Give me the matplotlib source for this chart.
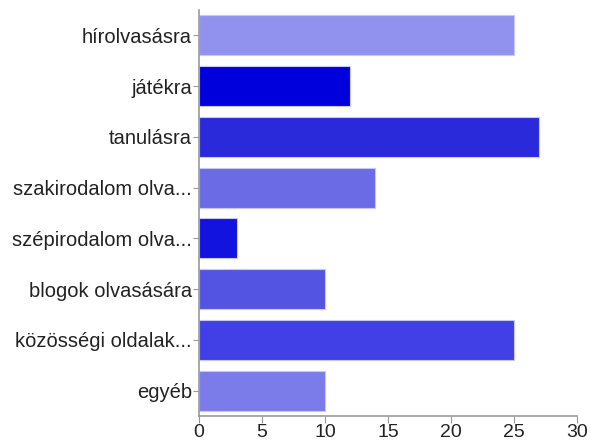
import matplotlib
matplotlib.use("Agg")
from matplotlib import pyplot as plt

categories = ["hírolvasásra", "játékra", "tanulásra", "szakirodalom olva...",
              "szépirodalom olva...", "blogok olvasására", "közösségi oldalak...", "egyéb"]
values = [25, 12, 27, 14, 3, 10, 25, 10]
colors = ["#9191ee", "#0000dd", "#2a2adb", "#6b6be6", "#1313e0", "#5454e2", "#4040e6", "#7b7be9"]

plt.rcParams['font.family'] = ['Liberation Sans', 'DejaVu Sans']

fig = plt.figure(figsize=(5.91, 4.41), dpi=100)
ax = fig.add_axes([0.3367, 0.0567, 0.6396, 0.9206])

pos = list(range(len(categories)))
ax.barh(pos, values, height=0.79, color=colors, edgecolor="#c8c8f8", linewidth=0.8)
ax.set_ylim(len(categories) - 0.5, -0.5)
ax.set_xlim(0, 30)
ax.set_xticks([0, 5, 10, 15, 20, 25, 30])
ax.set_yticks(pos)
ax.set_yticklabels(categories)

for s in ["top", "right"]:
    ax.spines[s].set_visible(False)
for s in ["left", "bottom"]:
    ax.spines[s].set_color("#999999")
    ax.spines[s].set_linewidth(1.2)

ax.tick_params(axis="x", colors="#999999", labelcolor="#222222", labelsize=14, length=5, pad=1)
ax.tick_params(axis="y", colors="#999999", labelcolor="#222222", labelsize=14.5, length=4, pad=1)

fig.savefig("out.png", dpi=100)
